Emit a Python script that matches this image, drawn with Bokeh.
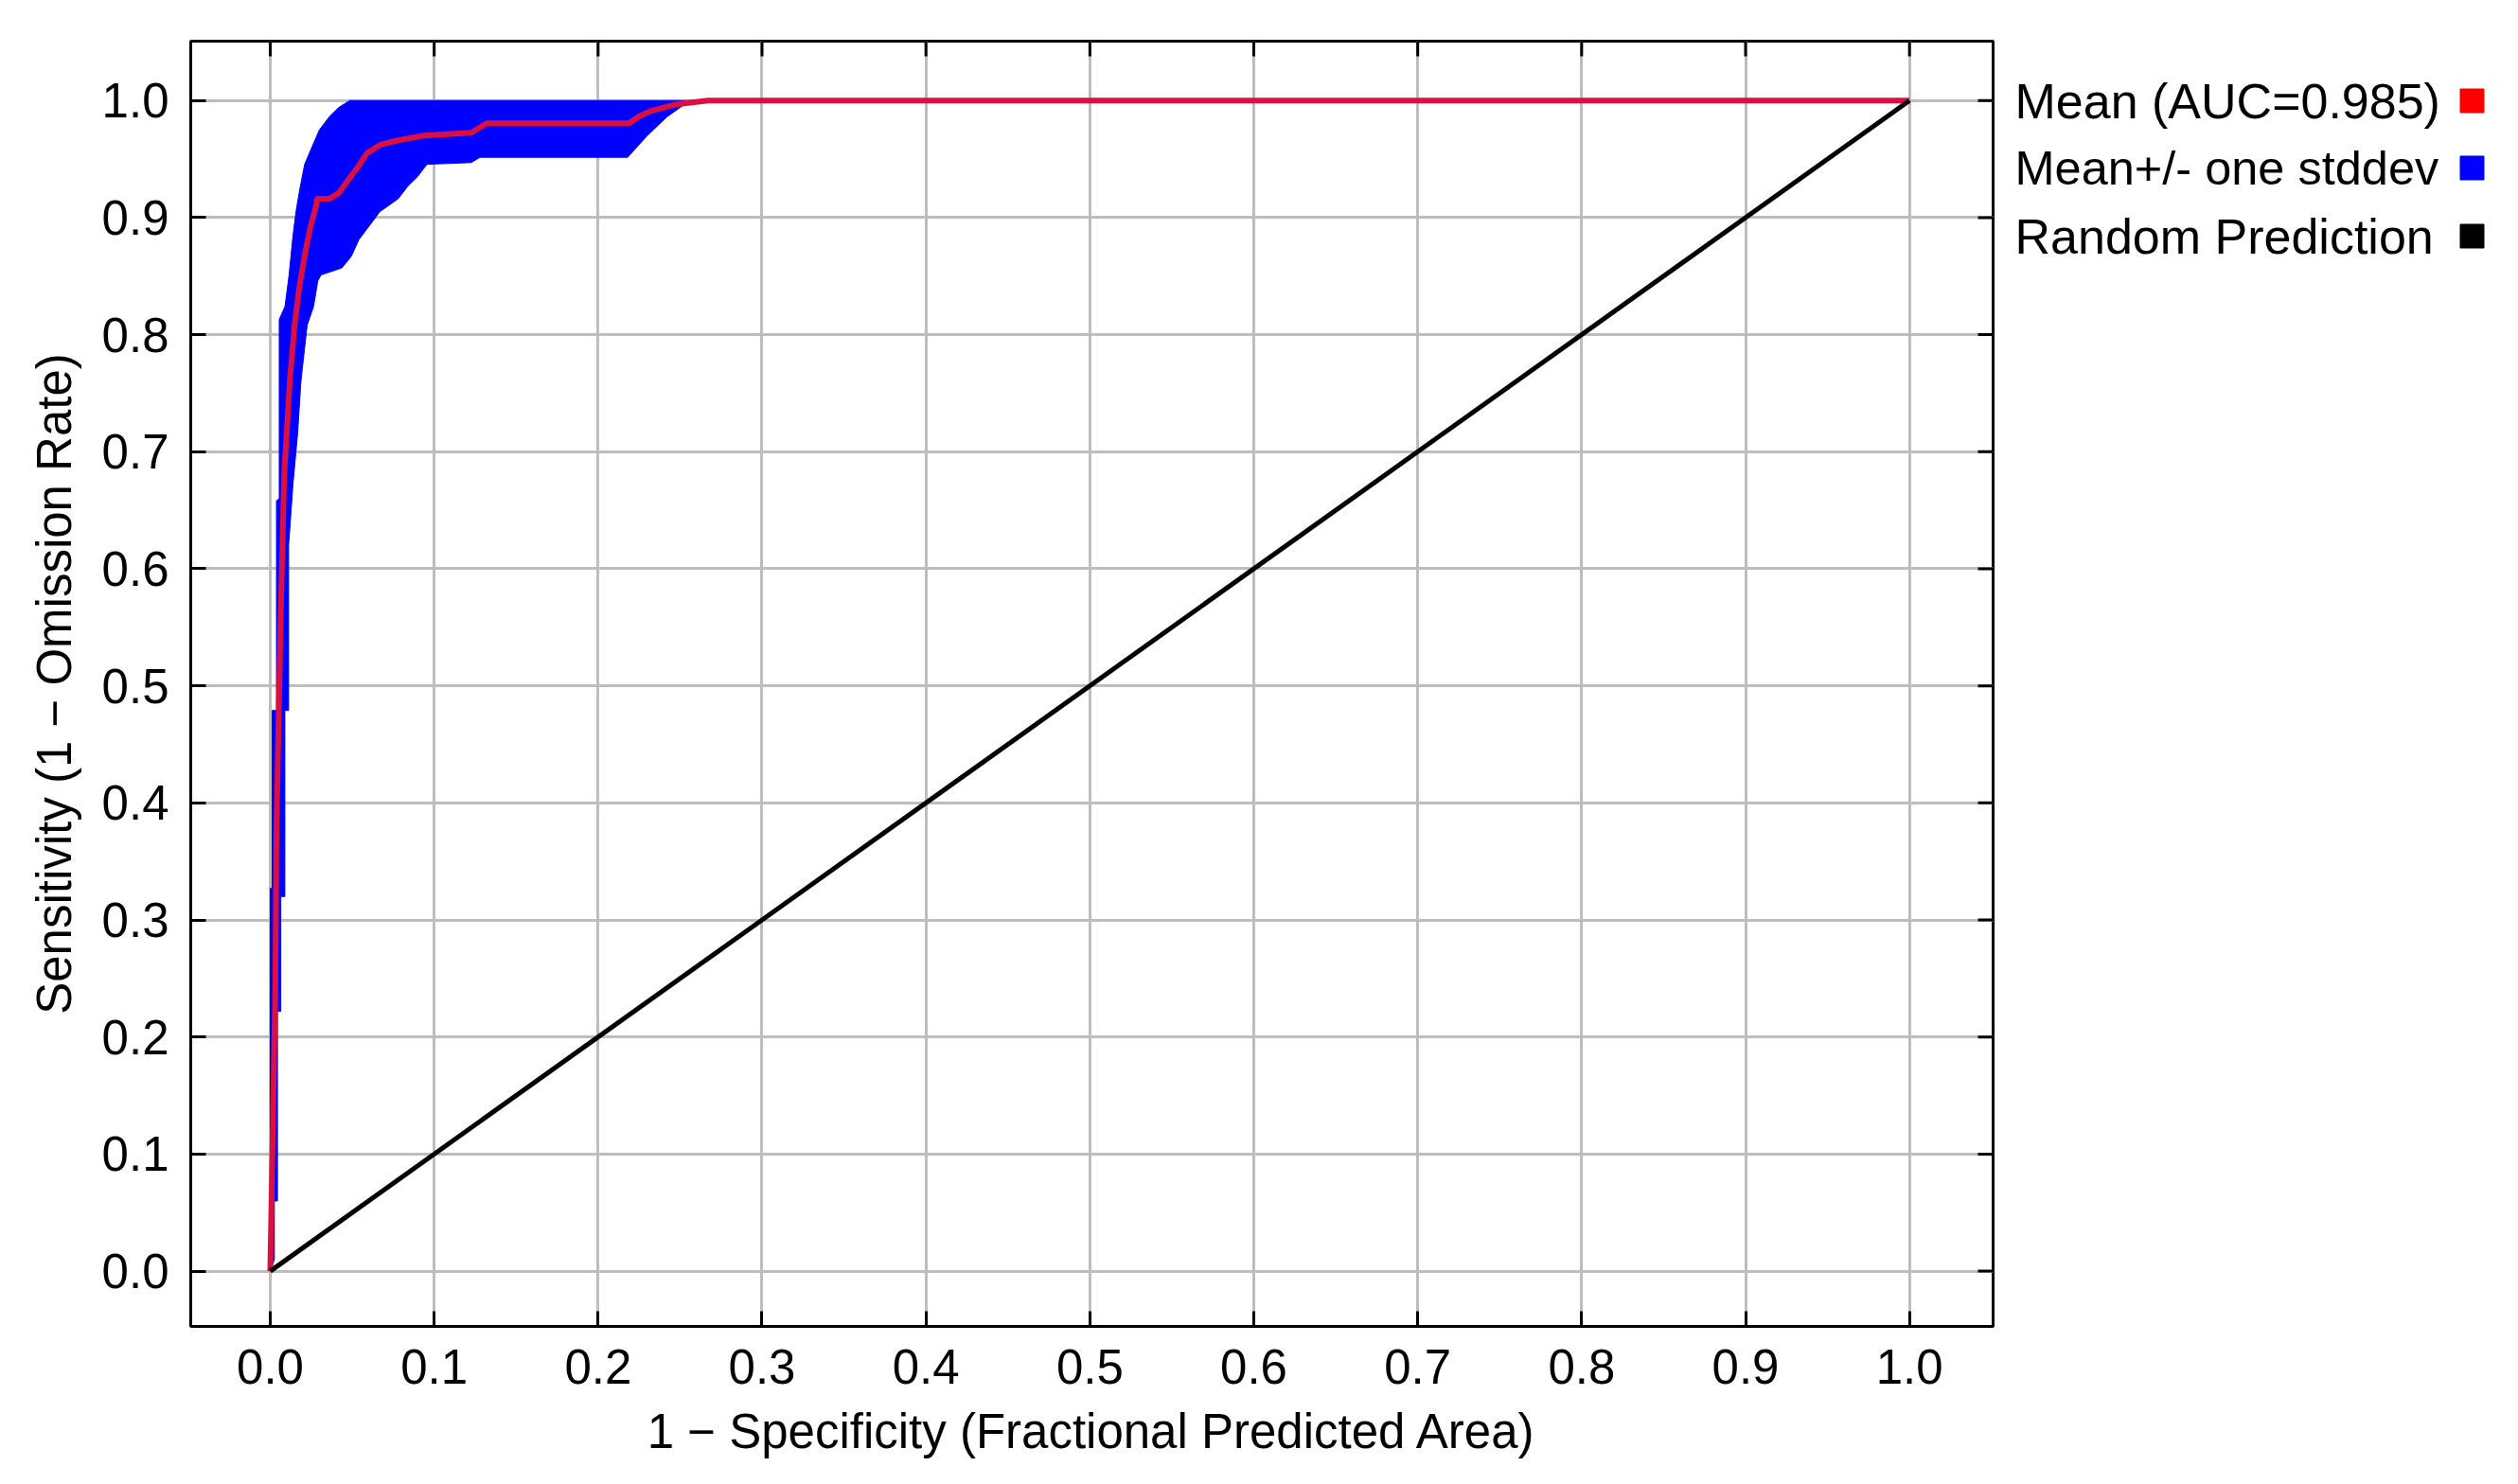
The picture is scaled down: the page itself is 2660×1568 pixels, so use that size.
from bokeh.plotting import figure
from bokeh.models import Range1d, FixedTicker, ColumnDataSource
from bokeh.layouts import row
from bokeh.core.properties import value
from bokeh.embed import file_html
from bokeh.resources import INLINE

# ---------------- data ----------------
tick_values = [0.0, 0.1, 0.2, 0.3, 0.4, 0.5, 0.6, 0.7, 0.8, 0.9, 1.0]
tick_labels = ["0.0", "0.1", "0.2", "0.3", "0.4", "0.5", "0.6", "0.7", "0.8", "0.9", "1.0"]

# mean ROC curve
mean_x = [0.0, 0.0031, 0.0038, 0.0064, 0.0085, 0.0119, 0.0148, 0.0177, 0.0206, 0.0244,
          0.0283, 0.0283, 0.036, 0.0418, 0.0475, 0.0533, 0.059, 0.0668, 0.078, 0.0937,
          0.1226, 0.132, 0.219, 0.2245, 0.232, 0.2477, 0.267, 1.0]
mean_y = [0.0, 0.242, 0.379, 0.56, 0.68, 0.76, 0.808, 0.84, 0.8647, 0.8916,
          0.912, 0.916, 0.916, 0.921, 0.932, 0.943, 0.955, 0.962, 0.966, 0.970,
          0.9725, 0.9806, 0.9806, 0.986, 0.991, 0.9968, 1.0, 1.0]

# mean + one stddev (upper / left edge of band)
upper_x = [0.0, 0.0, 0.0012, 0.0012, 0.0038, 0.0038, 0.0055, 0.0055, 0.009, 0.0115,
           0.0138, 0.0157, 0.0180, 0.0210, 0.0260, 0.0300, 0.036, 0.0417, 0.0485, 0.2645]
upper_y = [0.0, 0.327, 0.327, 0.479, 0.479, 0.658, 0.66, 0.813, 0.824, 0.851,
           0.8835, 0.905, 0.924, 0.9455, 0.962, 0.975, 0.986, 0.994, 1.0, 1.0]

# mean - one stddev (lower / right edge of band)
lower_x = [0.0, 0.0025, 0.0025, 0.0044, 0.0044, 0.0064, 0.0064, 0.0089, 0.0089, 0.0112,
           0.0112, 0.0139, 0.0167, 0.0187, 0.0225, 0.0264, 0.029, 0.031, 0.0437, 0.0495,
           0.054, 0.061, 0.0668, 0.078, 0.084, 0.0899, 0.0956, 0.1226, 0.128, 0.218,
           0.230, 0.242, 0.253, 0.2645]
lower_y = [0.0, 0.01, 0.06, 0.06, 0.222, 0.222, 0.32, 0.32, 0.479, 0.479,
           0.62, 0.673, 0.716, 0.76, 0.808, 0.824, 0.846, 0.851, 0.857, 0.867,
           0.881, 0.894, 0.905, 0.916, 0.927, 0.935, 0.9455, 0.947, 0.9515, 0.9515,
           0.970, 0.986, 0.997, 1.0]

random_x = [0.0, 1.0]
random_y = [0.0, 1.0]

legend_labels = ["Mean (AUC=0.985)", "Mean+/- one stddev", "Random Prediction"]
legend_colors = ["#ff0000", "#0000ff", "#000000"]

x_title = "1 \u2212 Specificity (Fractional Predicted Area)"
y_title = "Sensitivity (1 \u2212 Omission Rate)"

FONT = "Liberation Sans"
FS = "51px"

# ---------------- layout constants (pixels) ----------------
X0, X1 = -0.0485, 1.051
Y0, Y1 = -0.0472, 1.0507
H = 1560
B_LEFT, B_TOP, B_RIGHT = 201, 43, 20
FRAME_RIGHT, FRAME_BOTTOM = 2105, 1401
W1 = FRAME_RIGHT + B_RIGHT
B_BOTTOM = H - FRAME_BOTTOM
FRAME_W = FRAME_RIGHT - B_LEFT
FRAME_H = FRAME_BOTTOM - B_TOP
TICK_PX = 16

# ---------------- main plot ----------------
p = figure(width=W1, height=H,
           x_range=Range1d(X0, X1), y_range=Range1d(Y0, Y1),
           output_backend="svg", toolbar_location=None,
           min_border_left=B_LEFT, min_border_right=B_RIGHT,
           min_border_top=B_TOP, min_border_bottom=B_BOTTOM,
           background_fill_color="white", border_fill_color="white")

p.outline_line_color = "black"
p.outline_line_width = 3

ticker = FixedTicker(ticks=tick_values)
overrides = {v: l for v, l in zip(tick_values, tick_labels)}

for ax in (p.xaxis[0], p.yaxis[0]):
    ax.ticker = ticker
    ax.major_label_overrides = overrides
    ax.major_tick_in = TICK_PX
    ax.major_tick_out = 0
    ax.minor_tick_line_color = None
    ax.major_tick_line_width = 3
    ax.major_tick_line_color = "black"
    ax.axis_line_width = 3
    ax.axis_line_color = "black"
    ax.major_label_text_font = FONT
    ax.major_label_text_font_size = FS
    ax.major_label_text_color = "black"
    ax.axis_label_text_font = FONT
    ax.axis_label_text_font_size = FS
    ax.axis_label_text_font_style = "normal"
    ax.axis_label_text_color = "black"

p.xaxis[0].axis_label = x_title
p.yaxis[0].axis_label = y_title
p.xaxis[0].major_label_standoff = 24
p.yaxis[0].major_label_standoff = 23
p.xaxis[0].axis_label_standoff = 19
p.yaxis[0].axis_label_standoff = 19

p.xgrid.ticker = ticker
p.ygrid.ticker = ticker
p.grid.grid_line_color = "#bdbdbd"
p.grid.grid_line_width = 3

band_x = upper_x + lower_x[::-1]
band_y = upper_y + lower_y[::-1]
p.patch(band_x, band_y, fill_color=legend_colors[1], line_color=legend_colors[1], line_width=1)
p.line(mean_x, mean_y, line_color="#dc1040", line_width=6)
p.line(random_x, random_y, line_color=legend_colors[2], line_width=5)

# inward tick marks on the top and right frame edges
n = len(tick_values)
tl_y = TICK_PX * (Y1 - Y0) / FRAME_H
tl_x = TICK_PX * (X1 - X0) / FRAME_W
p.segment(x0=tick_values, y0=[Y1] * n, x1=tick_values, y1=[Y1 - tl_y] * n,
          line_color="black", line_width=3)
p.segment(x0=[X1] * n, y0=tick_values, x1=[X1 - tl_x] * n, y1=tick_values,
          line_color="black", line_width=3)

# ---------------- legend panel ----------------
W2 = 2652 - W1
q = figure(width=W2, height=H, x_range=Range1d(W1, W1 + W2),
           y_range=Range1d(FRAME_BOTTOM, B_TOP),
           output_backend="svg", toolbar_location=None,
           x_axis_location=None, y_axis_location=None,
           min_border_left=0, min_border_right=0,
           min_border_top=B_TOP, min_border_bottom=B_BOTTOM,
           outline_line_color=None,
           background_fill_color="white", border_fill_color="white")
q.xgrid.visible = False
q.ygrid.visible = False

row_y = [106, 177, 249]
src = ColumnDataSource(dict(label=legend_labels, color=legend_colors,
                            y=row_y, tx=[2128] * 3, sx=[2611] * 3,
                            fs=["52px", "50.5px", "52px"]))
q.text(x="tx", y="y", text="label", source=src, text_font=value(FONT),
       text_font_size="fs", text_color="black", text_baseline="middle", text_align="left")
q.scatter(x="sx", y="y", source=src, marker="square", size=25,
          fill_color="color", line_color="color")

layout = row(p, q)
open("out.html", "w").write(file_html(layout, INLINE))
